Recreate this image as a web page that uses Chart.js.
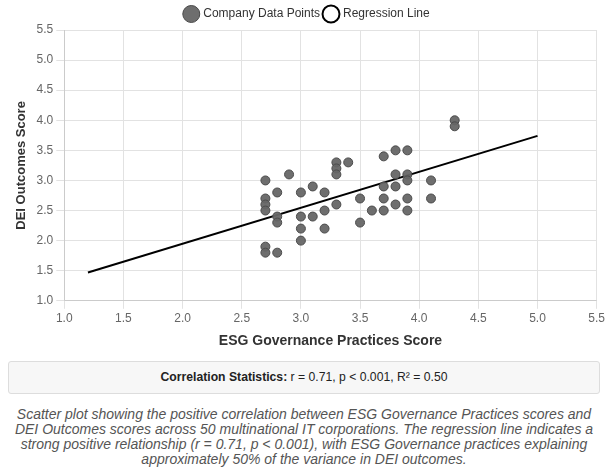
<!DOCTYPE html>
<html>
<head>
<meta charset="utf-8">
<script src="https://cdn.jsdelivr.net/npm/chart.js@4.4.1/dist/chart.umd.min.js"></script>
<style>
  body { margin: 0; padding: 0 8px; font-family: "Liberation Sans", Arial, sans-serif; background: #fff; width: 592px; }
  #wrap { position: relative; width: 608px; height: 354px; margin-left: -8px; }
  .stats { margin-top: 7px; height: 31px; line-height: 31px; border: 1px solid #ddd; background: #f7f7f7; border-radius: 3px; text-align: center; font-size: 12.2px; color: #222; }
  .caption { margin-top: 13px; font-size: 14px; font-style: italic; color: #555; text-align: center; line-height: 15px; white-space: nowrap; }
</style>
</head>
<body>
<div id="wrap"><canvas id="scatterChart"></canvas></div>
<div class="stats"><b>Correlation Statistics:</b> r = 0.71, p &lt; 0.001, R² = 0.50</div>
<div class="caption">Scatter plot showing the positive correlation between ESG Governance Practices scores and<br>DEI Outcomes scores across 50 multinational IT corporations. The regression line indicates a<br>strong positive relationship (r = 0.71, p &lt; 0.001), with ESG Governance practices explaining<br>approximately 50% of the variance in DEI outcomes.</div>
<script>
// ESG governance score (x) and DEI outcome score (y) per company
const esgScores = [2.7, 2.7, 2.7, 2.7, 2.7, 2.7, 2.8, 2.8, 2.8, 2.8, 2.9, 3.0, 3.0, 3.0, 3.0, 3.1, 3.1, 3.2, 3.2, 3.2,
                   3.3, 3.3, 3.3, 3.3, 3.4, 3.5, 3.5, 3.6, 3.7, 3.7, 3.7, 3.7, 3.8, 3.8, 3.8, 3.8,
                   3.9, 3.9, 3.9, 3.9, 3.9, 4.1, 4.1, 4.3, 4.3];
const deiScores = [3.0, 2.7, 2.6, 2.5, 1.9, 1.8, 1.8, 2.8, 2.4, 2.3, 3.1, 2.8, 2.4, 2.2, 2.0, 2.9, 2.4, 2.8, 2.5, 2.2,
                   3.3, 3.2, 3.1, 2.6, 3.3, 2.7, 2.3, 2.5, 3.4, 2.9, 2.7, 2.5, 3.5, 3.1, 2.9, 2.6,
                   3.5, 3.1, 3.0, 2.7, 2.5, 3.0, 2.7, 4.0, 3.9];
// regression line end points
const lineX = [1.2, 5.0];
const lineY = [1.47, 3.74];
const axisMin = 1.0, axisMax = 5.5, tickStep = 0.5;

const points = esgScores.map((x, i) => ({ x: x, y: deiScores[i] }));
const linePts = lineX.map((x, i) => ({ x: x, y: lineY[i] }));

const tickFont = { family: "Liberation Sans", size: 12 };

new Chart(document.getElementById("scatterChart"), {
    type: "scatter",
    data: {
        datasets: [{
            label: "Company Data Points",
            data: points,
            backgroundColor: "rgba(102,102,102,0.95)",
            borderColor: "#4a4a4a",
            borderWidth: 1,
            pointRadius: 4.5,
            pointStyle: "circle"
        }, {
            label: "Regression Line",
            type: "line",
            data: linePts,
            borderColor: "#000",
            backgroundColor: "#fff",
            borderWidth: 2,
            pointRadius: 0,
            pointStyle: "circle",
            fill: false
        }]
    },
    options: {
        responsive: true,
        maintainAspectRatio: false,
        animation: false,
        layout: { padding: { top: 3, right: 3, left: 10 } },
        plugins: {
            legend: {
                position: "top",
                labels: { usePointStyle: true, font: { family: "Liberation Sans", size: 12 }, color: "#333", padding: 5 }
            },
            tooltip: { enabled: false }
        },
        scales: {
            x: {
                type: "linear", min: axisMin, max: axisMax,
                ticks: { stepSize: tickStep, font: tickFont, color: "#666", callback: v => v.toFixed(1) },
                grid: { color: "#e2e2e2" },
                title: { display: true, text: "ESG Governance Practices Score", font: { family: "Liberation Sans", size: 14, weight: "bold" }, color: "#333" }
            },
            y: {
                type: "linear", min: axisMin, max: axisMax,
                ticks: { stepSize: tickStep, font: tickFont, color: "#666", callback: v => v.toFixed(1) },
                grid: { color: "#e2e2e2" },
                title: { display: true, text: "DEI Outcomes Score", font: { family: "Liberation Sans", size: 13, weight: "bold" }, color: "#333" }
            }
        }
    }
});
</script>
</body>
</html>
